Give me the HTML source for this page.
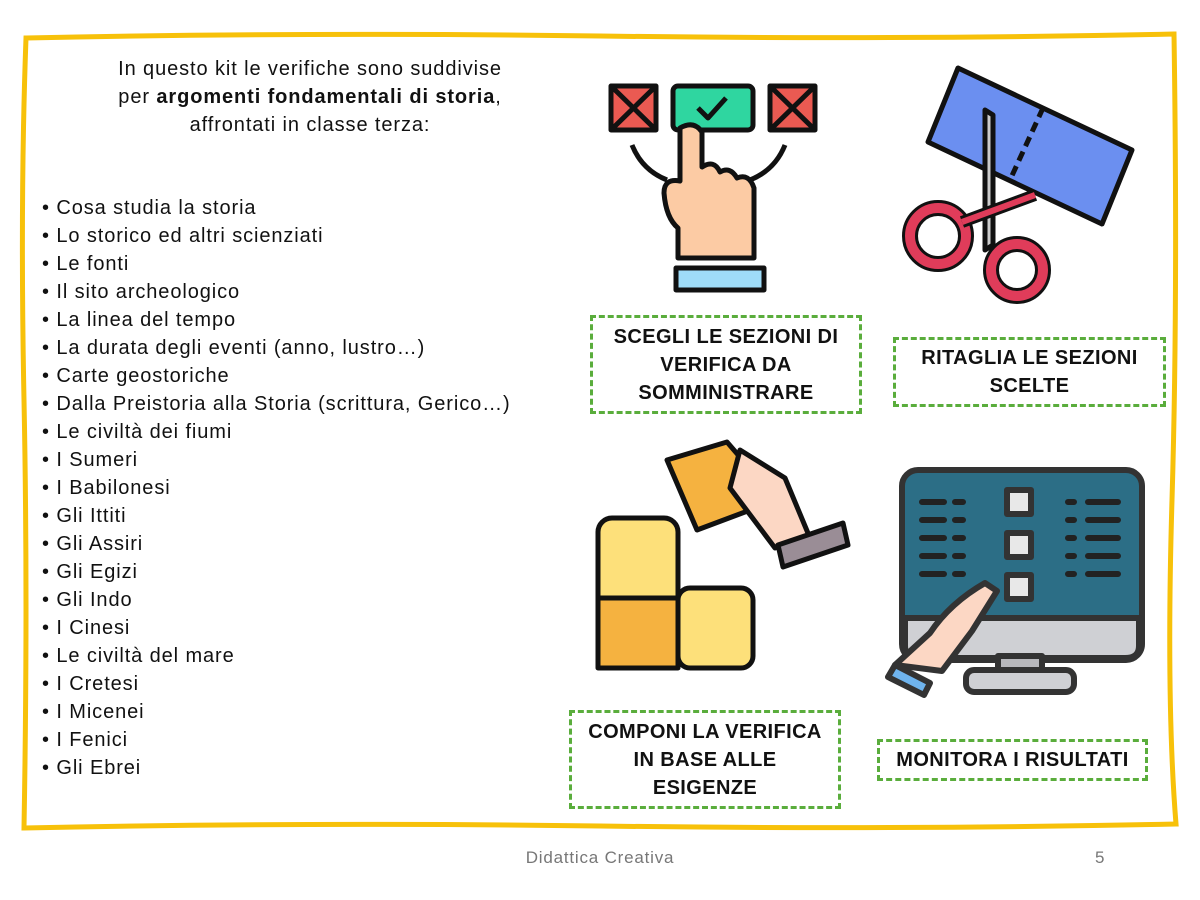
<!DOCTYPE html>
<html><head><meta charset="utf-8"><style>
body{margin:0;width:1200px;height:900px;background:#fff;position:relative;overflow:hidden;font-family:"Liberation Sans",sans-serif;}
.t{position:absolute;font-size:20px;letter-spacing:0.9px;color:#111;white-space:nowrap;}
.box{position:absolute;border:3px dashed #5aad3c;box-sizing:border-box;display:flex;align-items:center;justify-content:center;text-align:center;font-weight:bold;font-size:20px;letter-spacing:0.4px;line-height:28px;color:#111;}
</style></head><body>
<svg width="1200" height="900" style="position:absolute;left:0;top:0">
<path d="M26 38 Q300 32 600 36 T1174 34 Q1178 300 1172 500 T1176 824 Q900 830 600 826 T24 828 Q28 600 24 400 T26 38Z" fill="none" stroke="#f7c10a" stroke-width="5"/>
<g stroke="#111" stroke-width="5" stroke-linejoin="round">
<rect x="611" y="86" width="45" height="44" fill="#ea5a52"/><path d="M613 88L654 128M654 88L613 128"/>
<rect x="673" y="86" width="80" height="44" rx="5" fill="#2fd6a0"/><path d="M698 108l10 10 18-20" fill="none"/>
<rect x="770" y="86" width="45" height="44" fill="#ea5a52"/><path d="M772 88L813 128M813 88L772 128"/>
<path d="M632 145q10 25 35 35M785 145q-10 25-35 35" fill="none"/>
<path d="M680 128q14-8 22 4v35q12-8 18 5q10-6 17 6q12-5 17 10v70h-76v-30q-12-10-14-35q0-15 16-12v-50z" fill="#fccba4"/>
<rect x="676" y="268" width="88" height="22" fill="#9fdcf8"/>
</g>
<g stroke="#111" stroke-width="5" stroke-linejoin="round">
<path d="M958 68L1132 150L1102 224L928 142Z" fill="#6b8ff0"/>
<path d="M1043 108L1010 180" stroke-dasharray="10 6"/>
<path d="M985 110l8 5v130l-8 5z" fill="#ccc"/>
<circle cx="938" cy="236" r="28" fill="none" stroke="#111" stroke-width="16"/><circle cx="938" cy="236" r="28" fill="none" stroke="#e03c5a" stroke-width="10"/>
<circle cx="1017" cy="270" r="26" fill="none" stroke="#111" stroke-width="16"/><circle cx="1017" cy="270" r="26" fill="none" stroke="#e03c5a" stroke-width="10"/>
<path d="M962 222L1035 195" stroke="#111" stroke-width="12"/>
<path d="M962 222L1035 195" stroke="#e03c5a" stroke-width="6"/>
</g>
<g stroke="#111" stroke-width="5" stroke-linejoin="round">
<rect x="598" y="518" width="80" height="150" rx="14" fill="#fde07a"/>
<rect x="598" y="598" width="80" height="70" fill="#f5b240"/>
<rect x="678" y="588" width="75" height="80" rx="12" fill="#fde07a"/>
<path d="M667 460l60-18 50 58-80 30z" fill="#f5b240"/>
<path d="M740 450l45 28 25 60-35 10-45-60z" fill="#fcd7c4"/>
<path d="M778 545l65-22 5 22-65 22z" fill="#9a8d96"/>
</g>
<g stroke="#333" stroke-width="6" stroke-linejoin="round">
<rect x="902" y="470" width="240" height="190" rx="16" fill="#2c6e86"/>
<path d="M905 618h234v28q0 12-14 12h-206q-14 0-14-12z" fill="#cfd0d4"/>
<path d="M998 656h44v28h-44z" fill="#b8b8bc"/>
<rect x="966" y="670" width="108" height="22" rx="8" fill="#cfd0d4"/>
<rect x="1007" y="490" width="24" height="24" fill="#e8e8e8"/><rect x="1007" y="533" width="24" height="24" fill="#e8e8e8"/><rect x="1007" y="575" width="24" height="24" fill="#e8e8e8"/>
<path d="M895 665l35-32q20-30 55-50l12 8-25 40-30 40z" fill="#fcd7c4"/>
<path d="M895 665l35 18-6 12-36-18z" fill="#6fb4ee"/>
</g>
<g stroke="#222" stroke-width="6" stroke-linecap="round">
<path d="M922 502h22M955 502h8M922 520h22M955 520h8M922 538h22M955 538h8M922 556h22M955 556h8M922 574h22M955 574h8"/>
<path d="M1068 502h6M1088 502h30M1068 520h6M1088 520h30M1068 538h6M1088 538h30M1068 556h6M1088 556h30M1068 574h6M1088 574h30"/>
</g>
</svg>
<div class="t" style="left:0;width:620px;text-align:center;top:55px;line-height:28px">In questo kit le verifiche sono suddivise<br>per <b>argomenti fondamentali di storia</b>,<br>affrontati in classe terza:</div>
<div class="t" style="left:42px;top:194px;line-height:28px">• Cosa studia la storia<br>• Lo storico ed altri scienziati<br>• Le fonti<br>• Il sito archeologico<br>• La linea del tempo<br>• La durata degli eventi (anno, lustro…)<br>• Carte geostoriche<br>• Dalla Preistoria alla Storia (scrittura, Gerico…)<br>• Le civiltà dei fiumi<br>• I Sumeri<br>• I Babilonesi<br>• Gli Ittiti<br>• Gli Assiri<br>• Gli Egizi<br>• Gli Indo<br>• I Cinesi<br>• Le civiltà del mare<br>• I Cretesi<br>• I Micenei<br>• I Fenici<br>• Gli Ebrei</div>
<div class="box" style="left:590px;top:315px;width:272px;height:99px">SCEGLI LE SEZIONI DI<br>VERIFICA DA<br>SOMMINISTRARE</div>
<div class="box" style="left:893px;top:337px;width:273px;height:70px">RITAGLIA LE SEZIONI<br>SCELTE</div>
<div class="box" style="left:569px;top:710px;width:272px;height:99px">COMPONI LA VERIFICA<br>IN BASE ALLE<br>ESIGENZE</div>
<div class="box" style="left:877px;top:739px;width:271px;height:42px">MONITORA I RISULTATI</div>
<div class="t" style="left:0;width:1200px;text-align:center;top:848px;font-size:17px;letter-spacing:0.8px;color:#777">Didattica Creativa</div>
<div class="t" style="left:1095px;top:848px;font-size:17px;color:#777">5</div>
</body></html>
